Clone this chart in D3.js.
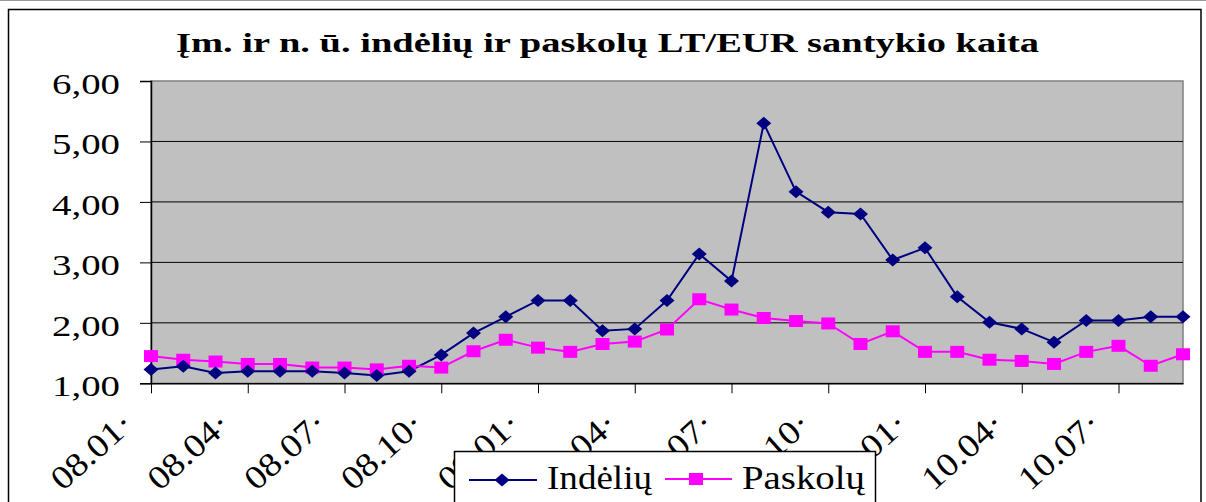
<!DOCTYPE html>
<html>
<head>
<meta charset="utf-8">
<script src="https://cdn.jsdelivr.net/npm/d3@7"></script>
<style>
  body { margin: 0; background: #fff; }
  svg { display: block; }
  text { font-family: "Liberation Serif", "Times New Roman", serif; fill: #000; }
</style>
</head>
<body>
<div id="chart"></div>
<script>
// categories (months, 2008.01 - 2010.09)
var categories = ["08.01","08.02","08.03","08.04","08.05","08.06","08.07","08.08","08.09","08.10","08.11","08.12",
                  "09.01","09.02","09.03","09.04","09.05","09.06","09.07","09.08","09.09","09.10","09.11","09.12",
                  "10.01","10.02","10.03","10.04","10.05","10.06","10.07","10.08","10.09"];

// series values
var indeliu = [1.23,1.28,1.17,1.20,1.20,1.20,1.17,1.13,1.20,1.47,1.83,2.10,
               2.37,2.37,1.87,1.90,2.37,3.14,2.69,5.30,4.17,3.83,3.80,3.04,
               3.24,2.43,2.01,1.90,1.68,2.04,2.04,2.10,2.10];
var paskolu = [1.45,1.39,1.36,1.32,1.32,1.26,1.26,1.23,1.29,1.26,1.53,1.72,
               1.59,1.52,1.65,1.69,1.89,2.39,2.22,2.08,2.03,1.99,1.65,1.86,
               1.52,1.52,1.39,1.37,1.32,1.52,1.62,1.29,1.48];

// tick labels
var xTickCats = ["08.01","08.04","08.07","08.10","09.01","09.04","09.07","09.10","10.01","10.04","10.07"];
var xTickLabels = ["08.01·","08.04·","08.07·","08.10·","09.01·","09.04·","09.07·","09.10·","10.01·","10.04·","10.07·"];
var yTicks = [1, 2, 3, 4, 5, 6];
var yTickLabels = ["1,00","2,00","3,00","4,00","5,00","6,00"];

var seriesNames = ["Indėlių", "Paskolų"];
var title = "Įm. ir n. ū. indėlių ir paskolų LT/EUR santykio kaita";

var width = 1206, height = 502;
var plot = {left: 151, right: 1183, top: 81, bottom: 383.3};

var svg = d3.select("#chart").append("svg")
    .attr("width", width)
    .attr("height", height);

// outer chart border
svg.append("line")
    .attr("x1", 0).attr("x2", width).attr("y1", 0.5).attr("y2", 0.5)
    .attr("stroke", "#9a9a9a");
svg.append("rect")
    .attr("x", 8.5).attr("y", 9.5)
    .attr("width", 1192.5).attr("height", 520)
    .attr("fill", "#fff")
    .attr("stroke", "#000")
    .attr("stroke-width", 1.5);

// title
svg.append("text")
    .attr("x", 176).attr("y", 51.5)
    .attr("font-size", 27)
    .attr("font-weight", "bold")
    .attr("textLength", 863)
    .attr("lengthAdjust", "spacingAndGlyphs")
    .text(title);

// set the ranges
var x = d3.scalePoint().domain(categories).range([plot.left, plot.right]);
var y = d3.scaleLinear().domain([1, 6]).range([plot.bottom, plot.top]);

// plot area
svg.append("rect")
    .attr("x", plot.left).attr("y", plot.top)
    .attr("width", plot.right - plot.left)
    .attr("height", plot.bottom - plot.top)
    .attr("fill", "#c0c0c0")
    .attr("stroke", "#808080")
    .attr("stroke-width", 1.5);

// gridlines
svg.append("g")
    .selectAll("line")
    .data(yTicks.slice(1, -1))
    .enter().append("line")
    .attr("x1", plot.left).attr("x2", plot.right)
    .attr("y1", function(d) { return y(d); })
    .attr("y2", function(d) { return y(d); })
    .attr("stroke", "#000")
    .attr("stroke-width", 1);

// Y axis
var yAxis = svg.append("g")
    .attr("transform", "translate(" + plot.left + ",0)")
    .call(d3.axisLeft(y).tickValues(yTicks).tickSize(11).tickFormat(function(d, i) { return yTickLabels[i]; }));
yAxis.select(".domain").attr("stroke", "#000").attr("stroke-width", 1.5);
yAxis.selectAll(".tick line").attr("stroke", "#000");
yAxis.selectAll(".tick text")
    .attr("x", -31)
    .attr("dy", 12.3)
    .attr("font-size", 30)
    .attr("font-family", "Liberation Serif")
    .attr("text-anchor", "end")
    .attr("textLength", 68)
    .attr("lengthAdjust", "spacingAndGlyphs");

// X axis
var xAxis = svg.append("g")
    .attr("transform", "translate(0," + plot.bottom + ")")
    .call(d3.axisBottom(x).tickValues(xTickCats).tickSize(10).tickSizeOuter(0)
      .tickFormat(function(d, i) { return xTickLabels[i]; }));
xAxis.select(".domain").attr("stroke", "#000").attr("stroke-width", 1.5);
xAxis.selectAll(".tick line").attr("stroke", "#000");
xAxis.selectAll(".tick text")
    .attr("y", 0).attr("dy", 0)
    .attr("font-size", 33)
    .attr("font-family", "Liberation Serif")
    .attr("text-anchor", "end")
    .attr("textLength", 98)
    .attr("lengthAdjust", "spacingAndGlyphs")
    .attr("transform", "translate(-16,43) rotate(-42)");

// define the lines
function valueline(values) {
  return d3.line()
    .x(function(d, i) { return x(categories[i]); })
    .y(function(d) { return y(d); })(values);
}

function diamond(cx, cy) {
  return "M" + cx + "," + (cy - 6.5) + "L" + (cx + 7.5) + "," + cy +
         "L" + cx + "," + (cy + 6.5) + "L" + (cx - 7.5) + "," + cy + "Z";
}

// Indėlių
svg.append("path")
    .attr("d", valueline(indeliu))
    .attr("fill", "none")
    .attr("stroke", "#000080")
    .attr("stroke-width", 2);

// Paskolų
svg.append("path")
    .attr("d", valueline(paskolu))
    .attr("fill", "none")
    .attr("stroke", "#ff00ff")
    .attr("stroke-width", 2);

svg.append("g").selectAll("rect")
    .data(paskolu)
    .enter().append("rect")
    .attr("x", function(d, i) { return x(categories[i]) - 7; })
    .attr("y", function(d) { return y(d) - 6; })
    .attr("width", 14).attr("height", 12)
    .attr("fill", "#ff00ff");

svg.append("g").selectAll("path")
    .data(indeliu)
    .enter().append("path")
    .attr("d", function(d, i) { return diamond(x(categories[i]), y(d)); })
    .attr("fill", "#000080");

// legend
var legend = svg.append("g");
legend.append("rect")
    .attr("x", 454.5).attr("y", 451.5)
    .attr("width", 421).attr("height", 80)
    .attr("fill", "#fff")
    .attr("stroke", "#000")
    .attr("stroke-width", 1.5);

legend.append("line")
    .attr("x1", 469).attr("x2", 537).attr("y1", 480).attr("y2", 480)
    .attr("stroke", "#000080").attr("stroke-width", 2);
legend.append("path")
    .attr("d", diamond(502, 480))
    .attr("fill", "#000080");
legend.append("text")
    .attr("x", 547).attr("y", 488.5)
    .attr("font-size", 33)
    .attr("textLength", 105)
    .attr("lengthAdjust", "spacingAndGlyphs")
    .text(seriesNames[0]);

legend.append("line")
    .attr("x1", 665).attr("x2", 732).attr("y1", 479).attr("y2", 479)
    .attr("stroke", "#ff00ff").attr("stroke-width", 2);
legend.append("rect")
    .attr("x", 689).attr("y", 473)
    .attr("width", 14).attr("height", 12)
    .attr("fill", "#ff00ff");
legend.append("text")
    .attr("x", 742).attr("y", 488.5)
    .attr("font-size", 33)
    .attr("textLength", 123)
    .attr("lengthAdjust", "spacingAndGlyphs")
    .text(seriesNames[1]);
</script>
</body>
</html>
